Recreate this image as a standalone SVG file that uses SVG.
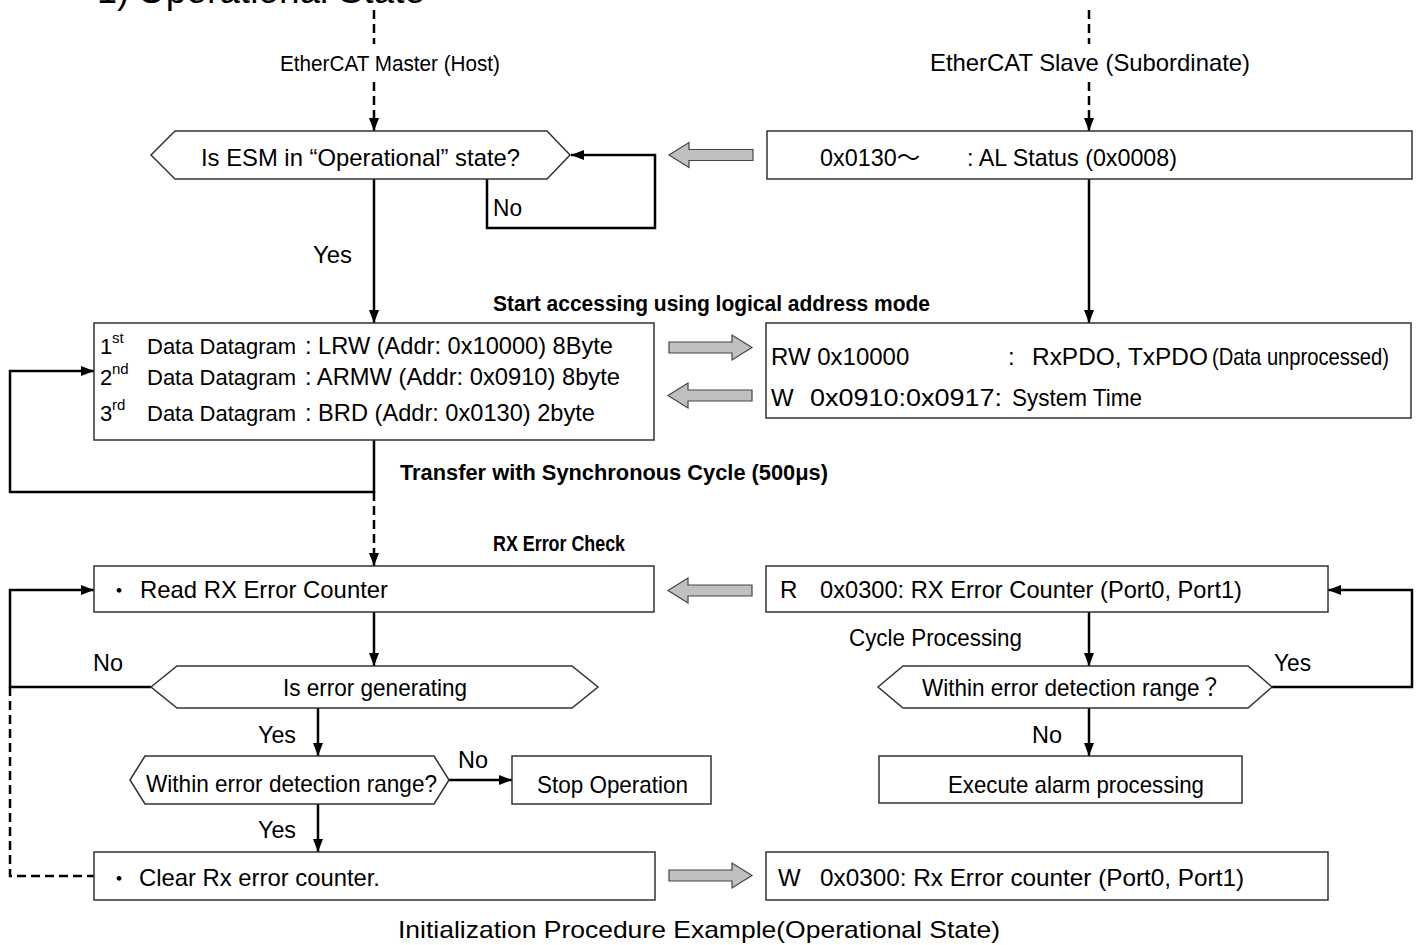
<svg xmlns="http://www.w3.org/2000/svg" width="1423" height="945" viewBox="0 0 1423 945">
  <defs>
    <marker id="ah" markerUnits="userSpaceOnUse" markerWidth="13" markerHeight="10" refX="13" refY="5" orient="auto">
      <path d="M0,0 L13,5 L0,10 z" fill="#000"/>
    </marker>
    <style>
      text { font-family: "Liberation Sans", "Noto Sans CJK JP", sans-serif; fill: #000; }
      .t24 { font-size: 24px; }
      .t22 { font-size: 22px; }
      .n { font-size: 24px; }
      .b { font-weight: bold; font-size: 22px; }
      .sup { font-size: 15px; }
      .box { fill: #fff; stroke: #333; stroke-width: 1.5; }
      .flow { fill: none; stroke: #000; stroke-width: 2.5; }
      .dash { fill: none; stroke: #000; stroke-width: 2.5; stroke-dasharray: 9 5; }
      .blk { fill: #c0c0c0; stroke: #444; stroke-width: 1.2; }
    </style>
  </defs>

  <!-- heading (runs off the top edge) -->
  <text x="97" y="3" style="font-size:36px">1)</text>
  <text x="137" y="3" style="font-size:36px" textLength="288" lengthAdjust="spacingAndGlyphs">Operational State</text>

  <!-- column headers -->
  <text class="t22" x="280" y="71" textLength="220" lengthAdjust="spacingAndGlyphs">EtherCAT Master (Host)</text>
  <text class="t24" x="930" y="71" textLength="320" lengthAdjust="spacingAndGlyphs">EtherCAT Slave (Subordinate)</text>

  <!-- connectors -->
  <g id="connectors">
    <path class="dash" d="M374,10 V44"/>
    <path class="dash" d="M374,82 V131" marker-end="url(#ah)"/>
    <path class="dash" d="M1089,10 V44"/>
    <path class="dash" d="M1089,82 V131" marker-end="url(#ah)"/>
    <path class="flow" d="M487,179 V228 H655 V155 H571" marker-end="url(#ah)"/>
    <path class="flow" d="M374,179 V323" marker-end="url(#ah)"/>
    <path class="flow" d="M1089,179 V323" marker-end="url(#ah)"/>
    <path class="flow" d="M374,440 V492 H10 V371 H94" marker-end="url(#ah)"/>
    <path class="dash" d="M374,492 V566" marker-end="url(#ah)"/>
    <path class="flow" d="M374,612 V666" marker-end="url(#ah)"/>
    <path class="flow" d="M151,687 H10 V590 H94" marker-end="url(#ah)"/>
    <path class="dash" d="M10,687 V876 H94"/>
    <path class="flow" d="M318,708 V756" marker-end="url(#ah)"/>
    <path class="flow" d="M449,780 H512" marker-end="url(#ah)"/>
    <path class="flow" d="M318,804 V852" marker-end="url(#ah)"/>
    <path class="flow" d="M1089,612 V666" marker-end="url(#ah)"/>
    <path class="flow" d="M1272,687 H1412 V590 H1328" marker-end="url(#ah)"/>
    <path class="flow" d="M1089,708 V756" marker-end="url(#ah)"/>
    <!-- data exchange block arrows -->
    <polygon class="blk" points="753,149.5 689,149.5 689,142.5 669,155 689,167.5 689,160.5 753,160.5"/>
    <polygon class="blk" points="669,342 732,342 732,335 752,347.5 732,360 732,353 669,353"/>
    <polygon class="blk" points="752,390 688,390 688,383 668,395.5 688,408 688,401 752,401"/>
    <polygon class="blk" points="752,585 688,585 688,578 668,590.5 688,603 688,596 752,596"/>
    <polygon class="blk" points="669,870 732,870 732,863 752,875.5 732,888 732,881 669,881"/>
  </g>

  <!-- master: operational state check -->
  <g id="esm-check">
    <polygon class="box" points="151,155 175,131 547,131 570,155 547,179 175,179"/>
    <text class="n" x="201" y="166" textLength="319" lengthAdjust="spacingAndGlyphs">Is ESM in “Operational” state?</text>
  </g>
  <text class="t24" x="493" y="216" textLength="29" lengthAdjust="spacingAndGlyphs">No</text>
  <text class="t24" x="313" y="263" textLength="39" lengthAdjust="spacingAndGlyphs">Yes</text>

  <!-- slave: AL status -->
  <g id="al-status">
    <rect class="box" x="767" y="131" width="645" height="48"/>
    <text class="t24" x="820" y="166" textLength="100" lengthAdjust="spacingAndGlyphs">0x0130～</text>
    <text class="n" x="967" y="166" textLength="210" lengthAdjust="spacingAndGlyphs">: AL Status (0x0008)</text>
  </g>

  <text class="b" x="493" y="311" textLength="437" lengthAdjust="spacingAndGlyphs">Start accessing using logical address mode</text>

  <!-- master: cyclic datagrams -->
  <g id="datagrams">
    <rect class="box" x="94" y="323" width="560" height="117"/>
    <text class="t22" x="100" y="354">1</text><text class="sup" x="112" y="343">st</text>
    <text class="t22" x="147" y="354">Data Datagram</text>
    <text class="n" x="305" y="354" textLength="308" lengthAdjust="spacingAndGlyphs">: LRW (Addr: 0x10000) 8Byte</text>
    <text class="t22" x="100" y="385">2</text><text class="sup" x="112" y="374">nd</text>
    <text class="t22" x="147" y="385">Data Datagram</text>
    <text class="n" x="305" y="385" textLength="315" lengthAdjust="spacingAndGlyphs">: ARMW (Addr: 0x0910) 8byte</text>
    <text class="t22" x="100" y="421">3</text><text class="sup" x="112" y="410">rd</text>
    <text class="t22" x="147" y="421">Data Datagram</text>
    <text class="n" x="305" y="421" textLength="290" lengthAdjust="spacingAndGlyphs">: BRD (Addr: 0x0130) 2byte</text>
  </g>

  <!-- slave: process data -->
  <g id="process-data">
    <rect class="box" x="766" y="323" width="645" height="95"/>
    <text class="t24" x="771" y="365">RW 0x10000</text>
    <text class="t24" x="1008" y="365">:</text>
    <text class="t24" x="1032" y="365" textLength="176" lengthAdjust="spacingAndGlyphs">RxPDO, TxPDO</text>
    <text class="n" x="1212" y="365" textLength="177" lengthAdjust="spacingAndGlyphs">(Data unprocessed)</text>
    <text class="t24" x="771" y="406">W</text>
    <text class="t24" x="810" y="406" textLength="192" lengthAdjust="spacingAndGlyphs">0x0910:0x0917:</text>
    <text class="n" x="1012" y="406" textLength="130" lengthAdjust="spacingAndGlyphs">System Time</text>
  </g>

  <text class="b" x="400" y="480" textLength="428" lengthAdjust="spacingAndGlyphs">Transfer with Synchronous Cycle (500μs)</text>
  <text class="b" x="493" y="551" textLength="132" lengthAdjust="spacingAndGlyphs">RX Error Check</text>

  <!-- master: RX error check -->
  <g id="read-rx">
    <rect class="box" x="94" y="566" width="560" height="46"/>
    <text class="t22" x="108" y="598">・</text>
    <text class="t24" x="140" y="598" textLength="248" lengthAdjust="spacingAndGlyphs">Read RX Error Counter</text>
  </g>
  <g id="slave-rx-counter">
    <rect class="box" x="766" y="566" width="562" height="46"/>
    <text class="t24" x="780" y="598">R</text>
    <text class="n" x="820" y="598" textLength="422" lengthAdjust="spacingAndGlyphs">0x0300: RX Error Counter (Port0, Port1)</text>
  </g>
  <text class="n" x="849" y="646" textLength="173" lengthAdjust="spacingAndGlyphs">Cycle Processing</text>
  <text class="t24" x="93" y="671" textLength="30" lengthAdjust="spacingAndGlyphs">No</text>
  <text class="t24" x="1274" y="671" textLength="37" lengthAdjust="spacingAndGlyphs">Yes</text>

  <g id="error-generating">
    <polygon class="box" points="151,687 177,666 572,666 598,687 572,708 177,708"/>
    <text class="n" x="283" y="696" textLength="184" lengthAdjust="spacingAndGlyphs">Is error generating</text>
  </g>
  <g id="slave-range-check">
    <polygon class="box" points="878,687 903,666 1248,666 1272,687 1248,708 903,708"/>
    <text class="n" x="922" y="696" textLength="300" lengthAdjust="spacingAndGlyphs">Within error detection range？</text>
  </g>

  <text class="t24" x="258" y="743" textLength="38" lengthAdjust="spacingAndGlyphs">Yes</text>
  <text class="t24" x="1032" y="743" textLength="30" lengthAdjust="spacingAndGlyphs">No</text>
  <text class="t24" x="458" y="768" textLength="30" lengthAdjust="spacingAndGlyphs">No</text>

  <g id="master-range-check">
    <polygon class="box" points="130,780 145,756 434,756 449,780 434,804 145,804"/>
    <text class="n" x="146" y="792" textLength="291" lengthAdjust="spacingAndGlyphs">Within error detection range?</text>
  </g>
  <g id="stop">
    <rect class="box" x="512" y="756" width="199" height="48"/>
    <text class="n" x="537" y="793" textLength="151" lengthAdjust="spacingAndGlyphs">Stop Operation</text>
  </g>
  <g id="alarm">
    <rect class="box" x="879" y="756" width="363" height="47"/>
    <text class="n" x="948" y="793" textLength="256" lengthAdjust="spacingAndGlyphs">Execute alarm processing</text>
  </g>
  <text class="t24" x="258" y="838" textLength="38" lengthAdjust="spacingAndGlyphs">Yes</text>

  <g id="clear-rx">
    <rect class="box" x="94" y="852" width="561" height="48"/>
    <text class="t22" x="108" y="886">・</text>
    <text class="t24" x="139" y="886" textLength="241" lengthAdjust="spacingAndGlyphs">Clear Rx error counter.</text>
  </g>
  <g id="slave-clear">
    <rect class="box" x="766" y="852" width="562" height="48"/>
    <text class="t24" x="778" y="886">W</text>
    <text class="n" x="820" y="886" textLength="424" lengthAdjust="spacingAndGlyphs">0x0300: Rx Error counter (Port0, Port1)</text>
  </g>

  <text class="t24" x="398" y="938" textLength="602" lengthAdjust="spacingAndGlyphs">Initialization Procedure Example(Operational State)</text>
</svg>
